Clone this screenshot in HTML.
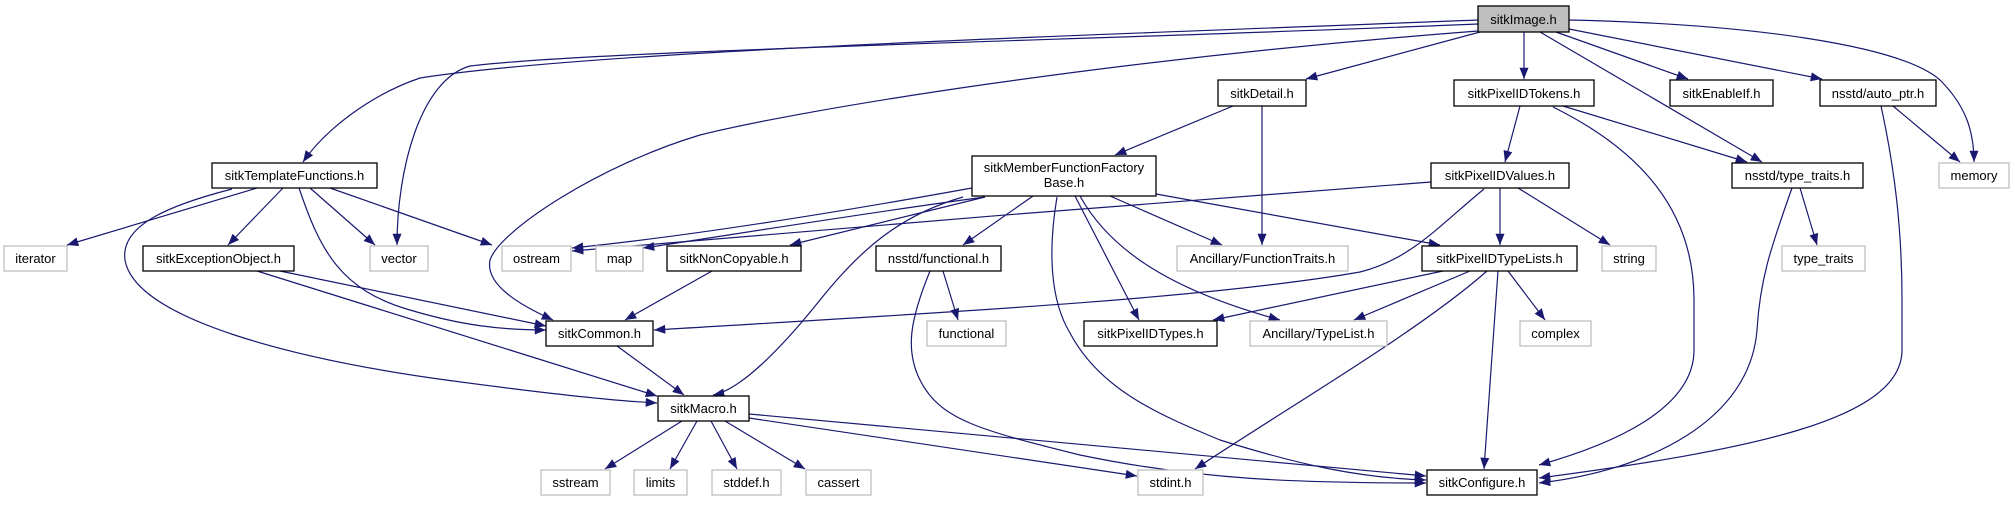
<!DOCTYPE html>
<html><head><meta charset="utf-8"><style>
html,body{margin:0;padding:0;background:#fff;}
svg text{font-family:"Liberation Sans",Arial,sans-serif;font-size:13px;text-anchor:middle;fill:#000;}
</style></head><body>
<svg width="2015" height="501" viewBox="0 0 2015 501" xmlns="http://www.w3.org/2000/svg">
<defs>
<marker id="a" viewBox="0 0 10 8" refX="10" refY="4" markerWidth="12" markerHeight="9" markerUnits="userSpaceOnUse" orient="auto">
<path d="M0,0 L10,4 L0,8 z" fill="#191970"/>
</marker>
</defs>
<g fill="none" stroke="#191970" stroke-width="1.2" marker-end="url(#a)">
<path d="M1478,20 C1100,35 600,50 420,78 C370,95 325,130 303,162"/>
<path d="M1478,24 C1100,40 600,50 470,66 C420,80 397,170 397,245"/>
<path d="M1478,31 C1100,60 800,110 700,135 C600,165 500,230 490,260 C485,285 520,305 553,320"/>
<path d="M1480,32 L1306,79"/>
<path d="M1524,32 L1524,79"/>
<path d="M1556,32 L1688,79"/>
<path d="M1569,29 L1822,79"/>
<path d="M1569,20 C1750,24 1900,45 1940,80 C1965,105 1974,130 1974,162"/>
<path d="M1540,32 L1762,162"/>
<path d="M1520,106 L1505,162"/>
<path d="M1563,106 L1747,162"/>
<path d="M1553,107 C1640,150 1694,210 1694,300 L1694,350 C1694,410 1610,445 1539,465"/>
<path d="M1233,106 L1115,155"/>
<path d="M1262,106 L1262,245"/>
<path d="M257,188 L67,245"/>
<path d="M283,188 L228,245"/>
<path d="M310,188 L375,245"/>
<path d="M330,188 L492,245"/>
<path d="M299,188 C320,250 340,290 410,310 C460,325 500,330 546,330"/>
<path d="M232,189 C170,205 120,225 125,260 C135,320 300,360 446,380 C520,390 600,400 657,403"/>
<path d="M280,271 L546,326"/>
<path d="M257,271 L657,396"/>
<path d="M617,346 L684,395"/>
<path d="M712,271 L625,320"/>
<path d="M972,188 C850,210 700,235 572,248"/>
<path d="M985,197 C850,215 700,240 643,248"/>
<path d="M985,197 L790,245"/>
<path d="M963,197 C900,215 860,250 820,300 C780,350 740,390 713,395"/>
<path d="M1033,196 L963,245"/>
<path d="M1057,197 C1048,250 1050,300 1070,333 C1100,390 1160,415 1220,440 C1300,465 1360,478 1426,480"/>
<path d="M1075,196 L1139,320"/>
<path d="M1080,196 C1110,250 1170,290 1280,320"/>
<path d="M1110,196 L1222,245"/>
<path d="M1156,194 L1440,245"/>
<path d="M943,271 L958,320"/>
<path d="M930,271 C910,320 905,350 920,380 C940,420 980,430 1080,455 C1200,480 1300,483 1426,483"/>
<path d="M1431,182 C1200,200 800,230 572,251"/>
<path d="M1484,189 C1440,225 1410,260 1360,272 C1200,300 900,315 654,330"/>
<path d="M1500,188 L1500,245"/>
<path d="M1518,188 L1610,245"/>
<path d="M1443,271 L1213,320"/>
<path d="M1470,271 L1354,320"/>
<path d="M1487,271 C1420,330 1300,400 1195,469"/>
<path d="M1508,271 L1545,320"/>
<path d="M1498,271 L1484,469"/>
<path d="M1800,188 L1817,245"/>
<path d="M1792,188 C1770,250 1760,280 1757,330 C1750,420 1650,470 1539,483"/>
<path d="M1893,106 L1960,162"/>
<path d="M1881,106 C1895,170 1902,230 1902,300 L1902,350 C1902,420 1750,450 1539,478"/>
<path d="M682,421 L605,469"/>
<path d="M697,421 L670,469"/>
<path d="M711,421 L737,469"/>
<path d="M725,421 L805,469"/>
<path d="M749,418 L1137,476"/>
<path d="M749,414 L1426,476"/>
</g>
<g stroke-width="1.3">
<rect x="1478" y="6" width="91" height="26" fill="#bfbfbf" stroke="#000"/>
<text x="1523.5" y="24">sitkImage.h</text>
<g fill="#fff" stroke="#000">
<rect x="1218" y="80" width="88" height="26"/>
<rect x="1454" y="80" width="140" height="26"/>
<rect x="1670" y="80" width="103" height="26"/>
<rect x="1820" y="80" width="116" height="26"/>
<rect x="212" y="163" width="165" height="25"/>
<rect x="972" y="156" width="184" height="40"/>
<rect x="1431" y="163" width="138" height="25"/>
<rect x="1732" y="163" width="131" height="25"/>
<rect x="143" y="246" width="151" height="25"/>
<rect x="667" y="246" width="134" height="25"/>
<rect x="876" y="246" width="125" height="25"/>
<rect x="1422" y="246" width="155" height="25"/>
<rect x="546" y="321" width="107" height="25"/>
<rect x="1084" y="321" width="133" height="25"/>
<rect x="658" y="396" width="91" height="25"/>
<rect x="1427" y="470" width="110" height="25"/>
</g>
<g fill="#fff" stroke="#bfbfbf">
<rect x="1939" y="163" width="70" height="25"/>
<rect x="4" y="246" width="63" height="25"/>
<rect x="370" y="246" width="58" height="25"/>
<rect x="502" y="246" width="69" height="25"/>
<rect x="596" y="246" width="47" height="25"/>
<rect x="1177" y="246" width="171" height="25"/>
<rect x="1602" y="246" width="54" height="25"/>
<rect x="1782" y="246" width="83" height="25"/>
<rect x="927" y="321" width="79" height="25"/>
<rect x="1250" y="321" width="137" height="25"/>
<rect x="1520" y="321" width="71" height="25"/>
<rect x="541" y="470" width="69" height="25"/>
<rect x="634" y="470" width="53" height="25"/>
<rect x="712" y="470" width="69" height="25"/>
<rect x="806" y="470" width="65" height="25"/>
<rect x="1138" y="470" width="65" height="25"/>
</g>
</g>
<text x="1262" y="98">sitkDetail.h</text>
<text x="1524" y="98">sitkPixelIDTokens.h</text>
<text x="1721.5" y="98">sitkEnableIf.h</text>
<text x="1878" y="98">nsstd/auto_ptr.h</text>
<text x="294.5" y="180">sitkTemplateFunctions.h</text>
<text x="1064" y="172">sitkMemberFunctionFactory</text>
<text x="1064" y="187">Base.h</text>
<text x="1500" y="180">sitkPixelIDValues.h</text>
<text x="1797.5" y="180">nsstd/type_traits.h</text>
<text x="1974" y="180">memory</text>
<text x="35.5" y="263">iterator</text>
<text x="218.5" y="263">sitkExceptionObject.h</text>
<text x="399" y="263">vector</text>
<text x="536.5" y="263">ostream</text>
<text x="619.5" y="263">map</text>
<text x="734" y="263">sitkNonCopyable.h</text>
<text x="938.5" y="263">nsstd/functional.h</text>
<text x="1262.5" y="263">Ancillary/FunctionTraits.h</text>
<text x="1499.5" y="263">sitkPixelIDTypeLists.h</text>
<text x="1629" y="263">string</text>
<text x="1823.5" y="263">type_traits</text>
<text x="599.5" y="338">sitkCommon.h</text>
<text x="966.5" y="338">functional</text>
<text x="1150.5" y="338">sitkPixelIDTypes.h</text>
<text x="1318.5" y="338">Ancillary/TypeList.h</text>
<text x="1555.5" y="338">complex</text>
<text x="703.5" y="413">sitkMacro.h</text>
<text x="575.5" y="487">sstream</text>
<text x="660.5" y="487">limits</text>
<text x="746.5" y="487">stddef.h</text>
<text x="838.5" y="487">cassert</text>
<text x="1170.5" y="487">stdint.h</text>
<text x="1482" y="487">sitkConfigure.h</text>
</svg>
</body></html>
